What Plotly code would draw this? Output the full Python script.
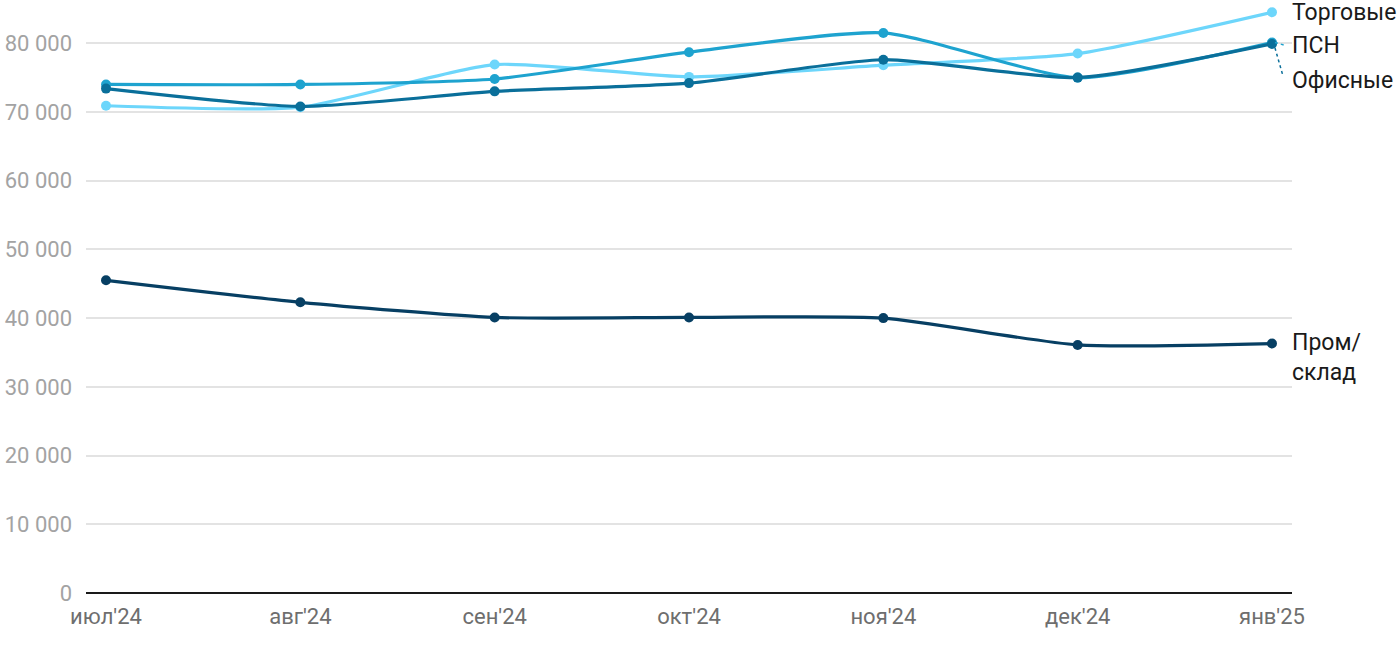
import plotly.graph_objects as go

months = ["июл'24", "авг'24", "сен'24", "окт'24", "ноя'24", "дек'24", "янв'25"]
torg = [70900, 70700, 76900, 75100, 76800, 78500, 84500]
psn = [74000, 74000, 74800, 78700, 81500, 75000, 80100]
ofis = [73400, 70800, 73000, 74200, 77600, 75000, 79900]
prom = [45500, 42300, 40100, 40100, 40000, 36100, 36300]

series = [
    ("Торговые", torg, "#6dd6fb"),
    ("ПСН", psn, "#1ea3cf"),
    ("Офисные", ofis, "#0a6f9a"),
    ("Пром/склад", prom, "#073f63"),
]

x_idx = list(range(len(months)))
fig = go.Figure()
for name, vals, col in series:
    fig.add_trace(go.Scatter(
        x=x_idx, y=vals, name=name, mode="lines+markers",
        line=dict(color=col, width=3.2, shape="spline", smoothing=0.6),
        marker=dict(color=col, size=10),
        showlegend=False,
    ))

font = "Roboto, Arial, sans-serif"
labels = [
    ("Торговые", torg[-1], 0),
    ("ПСН", psn[-1], -3),
    ("Офисные", ofis[-1], -37),
    ("Пром/<br>склад", prom[-1], -14),
]
for txt, yv, dy in labels:
    fig.add_annotation(x=6, y=yv, xref="x", yref="y", text=txt, showarrow=False,
                       xanchor="left", yanchor="middle", xshift=18, yshift=dy,
                       align="left", font=dict(family=font, size=23, color="#1a1a1a"))

# leader lines
fig.add_shape(type="line", xref="x", yref="y", xsizemode="pixel", ysizemode="pixel",
              xanchor=6, yanchor=psn[-1], x0=3, y0=0, x1=14, y1=-3,
              line=dict(color="#1ea3cf", width=1.5, dash="dot"))
fig.add_shape(type="line", xref="x", yref="y", xsizemode="pixel", ysizemode="pixel",
              xanchor=6, yanchor=ofis[-1], x0=3, y0=-4, x1=11, y1=-32,
              line=dict(color="#0a6f9a", width=1.5, dash="dot"))

fig.update_layout(
    width=1400, height=650,
    margin=dict(l=86, r=108, t=2, b=57),
    paper_bgcolor="white", plot_bgcolor="white",
    separators=", ",
    font=dict(family=font),
    xaxis=dict(
        tickmode="array", tickvals=x_idx, ticktext=months,
        range=[-0.103, 6.103], showgrid=False, zeroline=False,
        showline=False, ticks="", ticklabelstandoff=8,
        tickfont=dict(family=font, size=22, color="#6e6e6e"),
    ),
    yaxis=dict(
        range=[0, 86000], tickvals=[0, 10000, 20000, 30000, 40000, 50000, 60000, 70000, 80000],
        tickformat=",d", showgrid=True, gridcolor="#e3e3e3", gridwidth=1.5,
        zeroline=True, zerolinecolor="#1a1a1a", zerolinewidth=2,
        ticks="", ticklabelstandoff=13,
        tickfont=dict(family=font, size=22, color="#a3a3a3"),
    ),
)

fig.write_html("out.html", config={"displayModeBar": False},
               post_script="document.body.style.margin='0';")
